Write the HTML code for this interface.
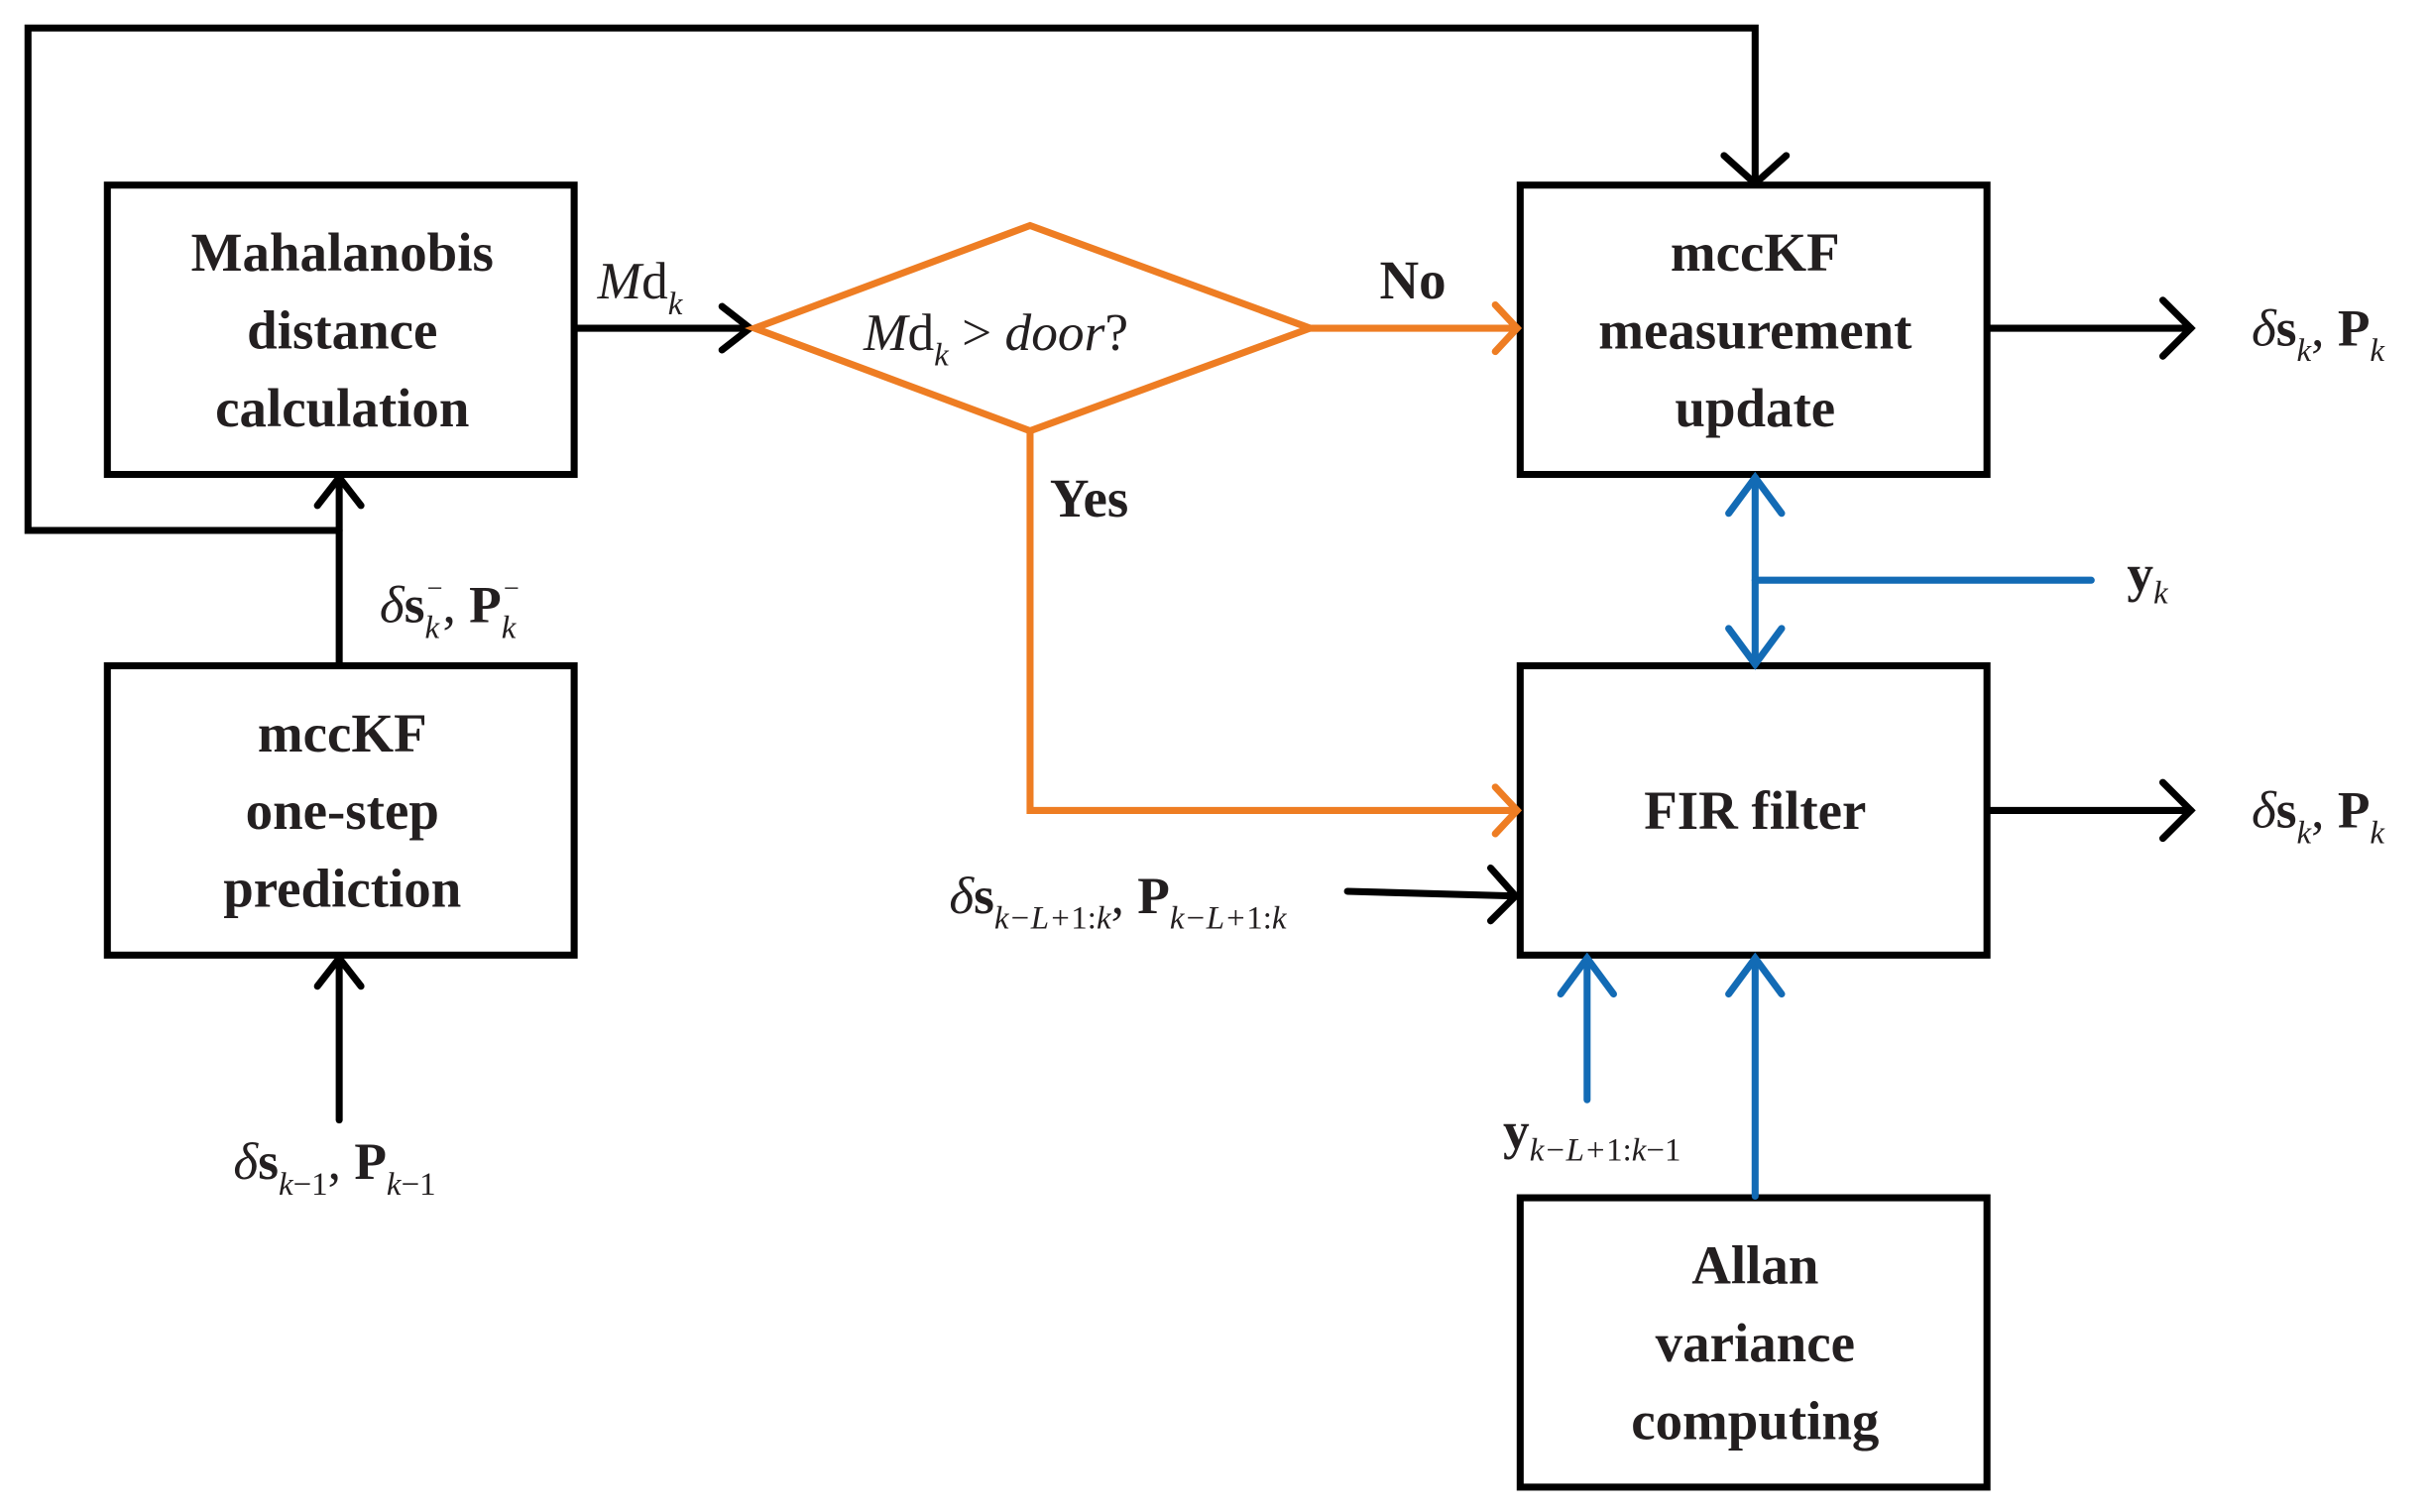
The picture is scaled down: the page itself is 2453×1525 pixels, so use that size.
<!DOCTYPE html>
<html><head><meta charset="utf-8"><style>
html,body{margin:0;padding:0;background:#fff;}
svg{display:block;}
text{font-family:"Liberation Serif",serif;fill:#231f20;}
.b{font-weight:bold;font-size:35px;text-anchor:middle;}
.m{font-size:34px;}
.s{font-size:21px;font-style:italic;}
</style></head><body>
<svg width="2453" height="1525" viewBox="0 0 1563 972" preserveAspectRatio="none" xmlns="http://www.w3.org/2000/svg">
<g fill="none" stroke-linecap="round" stroke-linejoin="miter">
<!-- black -->
<g stroke="#000" stroke-width="4.5">
<polyline points="218,341 18,341 18,18 1128,18 1128,116"/>
<polyline points="1108,100 1128,118 1148,100" stroke-linejoin="round"/>
<rect x="69" y="119" width="300" height="186"/>
<rect x="69" y="428" width="300" height="186"/>
<rect x="977" y="119" width="300" height="186"/>
<rect x="977" y="428" width="300" height="186"/>
<rect x="977" y="770" width="300" height="186"/>
<line x1="218" y1="427" x2="218" y2="307"/>
<polyline points="204,325 218,307 232,325"/>
<line x1="218" y1="720" x2="218" y2="616"/>
<polyline points="204,634 218,616 232,634"/>
<line x1="370" y1="211" x2="482" y2="211"/>
<polyline points="464,197 482,211 464,225"/>
<line x1="1278" y1="211" x2="1408" y2="211"/>
<polyline points="1390,193 1408,211 1390,229"/>
<line x1="1278" y1="521" x2="1408" y2="521"/>
<polyline points="1390,503 1408,521 1390,539"/>
<line x1="866" y1="573" x2="974" y2="576"/>
<polyline points="958,558 974,576 958,592"/>
</g>
<!-- orange -->
<g stroke="#ee7d23" stroke-width="4.5">
<polygon points="485,211 662,145 842,211 662,277"/>
<line x1="842" y1="211" x2="975" y2="211"/>
<polyline points="961,196 975,211 961,226"/>
<polyline points="662,277 662,521 975,521"/>
<polyline points="961,506 975,521 961,536"/>
</g>
<!-- blue -->
<g stroke="#136bb5" stroke-width="4.5">
<line x1="1128" y1="307" x2="1128" y2="427"/>
<polyline points="1111,330 1128,307 1145,330"/>
<polyline points="1111,404 1128,427 1145,404"/>
<line x1="1128" y1="373" x2="1344" y2="373"/>
<line x1="1128" y1="769" x2="1128" y2="616"/>
<polyline points="1111,639 1128,616 1145,639"/>
<line x1="1020" y1="707" x2="1020" y2="616"/>
<polyline points="1003,639 1020,616 1037,639"/>
</g>
</g>
<text class="b" x="220" y="174">Mahalanobis</text>
<text class="b" x="220" y="224">distance</text>
<text class="b" x="220" y="274">calculation</text>
<text class="b" x="220" y="483">mccKF</text>
<text class="b" x="220" y="533">one-step</text>
<text class="b" x="220" y="583">prediction</text>
<text class="b" x="1128" y="174">mccKF</text>
<text class="b" x="1128" y="224">measurement</text>
<text class="b" x="1128" y="274">update</text>
<text class="b" x="1128" y="533">FIR filter</text>
<text class="b" x="1128" y="825">Allan</text>
<text class="b" x="1128" y="875">variance</text>
<text class="b" x="1128" y="925">computing</text>
<text class="b" x="908" y="192">No</text>
<text class="b" x="700" y="332">Yes</text>
<text class="m" x="384" y="192"><tspan font-style="italic">M</tspan>d<tspan class="s" dy="10">k</tspan></text>
<text class="m" x="555" y="225"><tspan font-style="italic">M</tspan>d<tspan class="s" dy="10">k</tspan><tspan dy="-10"> &gt; </tspan><tspan font-style="italic">door</tspan>?</text>
<text class="m" x="244" y="400"><tspan font-style="italic">δ</tspan><tspan font-weight="bold">s</tspan><tspan class="s" dy="10">k</tspan><tspan font-size="18" dx="-8" dy="-26">−</tspan><tspan dy="16">, </tspan><tspan font-weight="bold">P</tspan><tspan class="s" dy="10">k</tspan><tspan font-size="18" dx="-8" dy="-26">−</tspan></text>
<text class="m" x="150" y="758"><tspan font-style="italic">δ</tspan><tspan font-weight="bold">s</tspan><tspan class="s" dy="10">k</tspan><tspan font-size="21" dy="0">−1</tspan><tspan dy="-10">, </tspan><tspan font-weight="bold">P</tspan><tspan class="s" dy="10">k</tspan><tspan font-size="21">−1</tspan></text>
<text class="m" x="610" y="587"><tspan font-style="italic">δ</tspan><tspan font-weight="bold">s</tspan><tspan class="s" dy="10">k−L+</tspan><tspan font-size="21">1:</tspan><tspan class="s">k</tspan><tspan dy="-10">, </tspan><tspan font-weight="bold">P</tspan><tspan class="s" dy="10">k−L+</tspan><tspan font-size="21">1:</tspan><tspan class="s">k</tspan></text>
<text class="m" x="1447" y="222"><tspan font-style="italic">δ</tspan><tspan font-weight="bold">s</tspan><tspan class="s" dy="10">k</tspan><tspan dy="-10">, </tspan><tspan font-weight="bold">P</tspan><tspan class="s" dy="10">k</tspan></text>
<text class="m" x="1447" y="532"><tspan font-style="italic">δ</tspan><tspan font-weight="bold">s</tspan><tspan class="s" dy="10">k</tspan><tspan dy="-10">, </tspan><tspan font-weight="bold">P</tspan><tspan class="s" dy="10">k</tspan></text>
<text class="m" x="1367" y="380"><tspan font-weight="bold">y</tspan><tspan class="s" dy="8">k</tspan></text>
<text class="m" x="966" y="738"><tspan font-weight="bold">y</tspan><tspan class="s" dy="8">k−L+</tspan><tspan font-size="21">1:</tspan><tspan class="s">k</tspan><tspan font-size="21">−1</tspan></text>
</svg>
</body></html>
